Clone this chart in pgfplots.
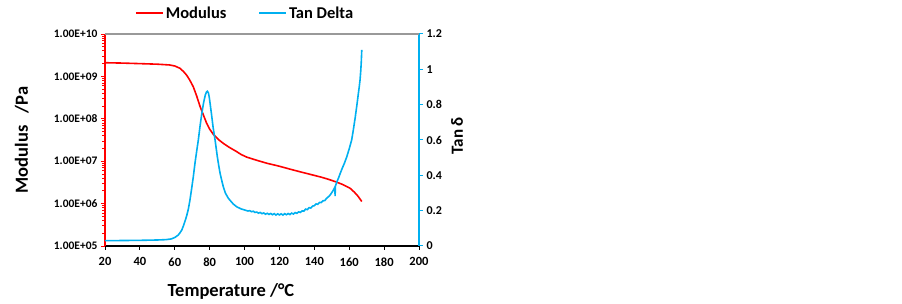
\documentclass[border=0pt]{standalone}
\usepackage{fontspec}
\setmainfont{Carlito}
\usepackage{pgfplots}
\pgfplotsset{compat=1.18}
\definecolor{modred}{RGB}{255,0,0}
\definecolor{tanblue}{RGB}{0,176,240}
\begin{document}
\begin{tikzpicture}[x=1pt,y=1pt]
\useasboundingbox (0,0) rectangle (902,304);
\begin{axis}[
  at={(105pt,58pt)}, anchor=south west,
  scale only axis, width=314pt, height=212pt,
  xmin=20, xmax=200,
  ymode=log, ymin=1e5, ymax=1e10,
  axis x line*=bottom, axis y line*=left,
  x axis line style={black, line width=1.2pt, -},
  y axis line style={modred, line width=1.2pt, -},
  xtick={20,40,...,200},
  xticklabels={20,40,60,80,100,120,140,160,180,200},
  ytick={1e5,1e6,1e7,1e8,1e9,1e10},
  yticklabels={1.00E+05,1.00E+06,1.00E+07,1.00E+08,1.00E+09,1.00E+10},
  minor ytick={2e5,3e5,4e5,5e5,6e5,7e5,8e5,9e5,2e6,3e6,4e6,5e6,6e6,7e6,8e6,9e6,2e7,3e7,4e7,5e7,6e7,7e7,8e7,9e7,2e8,3e8,4e8,5e8,6e8,7e8,8e8,9e8,2e9,3e9,4e9,5e9,6e9,7e9,8e9,9e9},
  tick align=outside,
  major tick length=4pt, minor tick length=2.5pt,
  x tick style={black, line width=1pt},
  y tick style={modred, line width=0.8pt},
  yticklabel style={font=\bfseries\fontsize{11.5}{13}\selectfont},
  xticklabel style={font=\bfseries\fontsize{12.5}{14}\selectfont, yshift=-4pt},
  xlabel={Temperature /°C},
  ylabel={Modulus\ \ \ /Pa},
  label style={font=\bfseries\fontsize{18.5}{21}\selectfont},
  xlabel style={at={(axis description cs:0.401,-0.216)}, anchor=center},
  ylabel style={at={(axis description cs:-0.265,0.5)}, anchor=center},
  clip=false,
]
\addplot[modred, line width=1.6pt] coordinates {
(20,2.10e9) (30,2.06e9) (40,2.00e9) (50,1.94e9) (57,1.86e9) (60,1.76e9)
(63,1.55e9) (65,1.30e9) (66.8,1.07e9) (68.5,8.3e8) (70.6,5.7e8) (72.5,3.5e8)
(74.5,1.95e8) (76.5,1.2e8) (78.3,7.8e7) (80,5.7e7) (82.1,4.3e7) (85,3.25e7)
(88,2.6e7) (91,2.15e7) (95.5,1.68e7) (98,1.44e7) (101.2,1.25e7) (107,1.05e7)
(113,8.9e6) (120,7.6e6) (126,6.5e6) (132,5.6e6) (138,4.85e6) (144,4.2e6)
(148,3.75e6) (152,3.3e6) (156,2.85e6) (160.5,2.3e6) (163,1.85e6) (165,1.5e6)
(167.2,1.12e6)
};
\end{axis}
\begin{axis}[
  at={(105pt,58pt)}, anchor=south west,
  scale only axis, width=314pt, height=212pt,
  xmin=20, xmax=200, ymin=0, ymax=1.2,
  axis x line=none, axis y line*=right,
  y axis line style={tanblue, line width=1.2pt, -},
  ytick={0,0.2,0.4,0.6,0.8,1,1.2},
  yticklabels={0,0.2,0.4,0.6,0.8,1,1.2},
  tick align=outside, major tick length=4pt,
  y tick style={tanblue, line width=1pt},
  ticklabel style={font=\bfseries\fontsize{12}{14}\selectfont},
  ylabel={Tan δ},
  label style={font=\bfseries\fontsize{17}{20}\selectfont},
  ylabel style={at={(axis description cs:1.121,0.52)}, anchor=center},
  legend style={at={(axis description cs:0.446,1.099)}, anchor=center, draw=none,
    fill=none, font=\bfseries\fontsize{16.5}{19}\selectfont, legend columns=2,
    /tikz/every even column/.append style={column sep=30pt},
    inner sep=0pt},
  legend image code/.code={\draw[#1] (0pt,0pt) -- (27pt,0pt);},
  clip=false,
]
\draw[gray!80, line width=1.2pt] (rel axis cs:0,1) -- (rel axis cs:1,1);
\addlegendimage{modred, line width=2pt}
\addlegendentry{Modulus}
\addplot[tanblue, line width=1.6pt] coordinates {
(20,0.030) (30,0.031) (40,0.032) (50,0.034) (55,0.036) (58,0.040) (60,0.048)
(62,0.062) (63,0.075) (64,0.090) (65,0.115) (66,0.145) (66.8,0.170) (67.8,0.210)
(68.7,0.260) (69.6,0.320) (70.6,0.390) (71.6,0.470) (72.6,0.540) (73.5,0.600)
(74.5,0.680) (75.5,0.750) (76.5,0.810) (77.5,0.855) (78.2,0.872) (78.7,0.876)
(79.3,0.866) (79.8,0.840) (80.2,0.810) (81,0.750) (82,0.670) (83.1,0.600)
(84.4,0.505) (85.2,0.455) (86,0.410) (87,0.368) (87.8,0.336) (89,0.300)
(90.7,0.270) (92,0.255) (93.5,0.238) (95.5,0.222) (98,0.210) (100,0.204)
(101,0.201) (102,0.198) (103,0.200) (104,0.194) (105,0.197) (106,0.190)
(107,0.192) (108,0.186) (109,0.190) (110,0.183) (111,0.187) (112,0.180)
(113,0.185) (114,0.179) (115,0.184) (116,0.177) (117,0.183) (118,0.175)
(119,0.182) (120,0.176) (121,0.182) (122,0.175) (123,0.183) (124,0.177)
(125,0.184) (126,0.178) (127,0.186) (128,0.181) (129,0.189) (130,0.185)
(131,0.193) (132,0.190) (133,0.199) (134,0.197) (135,0.209) (136,0.206)
(137,0.217) (138,0.215) (139,0.226) (140,0.228) (141,0.238) (142,0.236)
(143,0.247) (144,0.246) (145,0.256) (146,0.257) (147,0.270) (148,0.278)
(149,0.288) (150,0.302) (151,0.318) (151.8,0.333) (151.9,0.282)
(152.1,0.340) (153,0.365) (154,0.388) (154.8,0.410) (156,0.440) (157.3,0.470)
(158.6,0.505) (160,0.550) (161.4,0.600) (162.4,0.660) (163.4,0.725) (164.3,0.790)
(165.2,0.860) (165.8,0.905) (166.2,0.940) (166.6,0.990) (166.9,1.040)
(167.2,1.110)
};
\addlegendentry{Tan Delta}
\end{axis}
\end{tikzpicture}
\end{document}
